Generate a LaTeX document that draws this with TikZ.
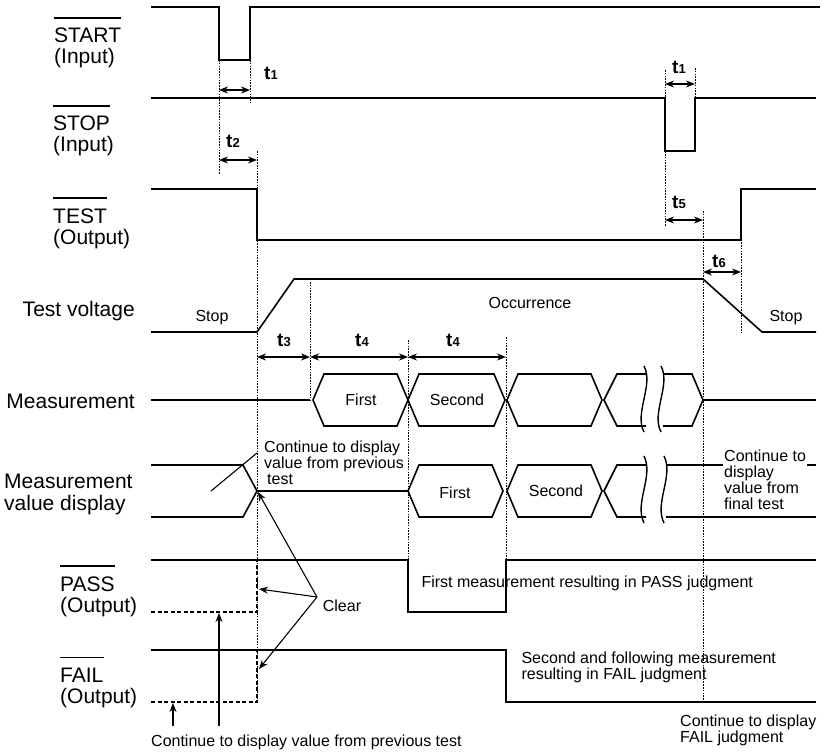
\documentclass[tikz,border=0pt]{standalone}
\usepackage{fontspec}
\setmainfont{Liberation Sans}
\usetikzlibrary{arrows.meta}
\newcommand{\tsub}[1]{\textbf{t\kern0.3pt{\fontsize{13}{13}\selectfont #1}}}

\begin{document}
\begin{tikzpicture}[x=1pt, y=-1pt, >={Stealth[length=9pt,width=7pt]},
  wave/.style={line width=1.6pt},
  thin/.style={line width=1.1pt},
  guide/.style={line width=0.9pt, dash pattern=on 1.6pt off 1.2pt},
  held/.style={line width=1.5pt, dash pattern=on 4pt off 2.5pt},
  dim/.style={line width=1.5pt, <->},
  big/.style={font=\fontsize{21}{22}\selectfont, align=left},
  small/.style={font=\fontsize{16}{16}\selectfont, align=left},
  tl/.style={font=\fontsize{19}{19}\selectfont}]
  \useasboundingbox (0,0) rectangle (823,752);

  % signal names
  \foreach \nm/\io/\x/\y/\id in {START/Input/54/43/start, STOP/Input/53/131/stop,
      TEST/Output/53/223/test, PASS/Output/60/591/pass, FAIL/Output/60/682/fail} {
    \node[big, anchor=base west, inner sep=0pt] (\id) at (\x,\y) {\nm};
    \node[big, anchor=base west, inner sep=0pt] (\id io) at (\x,\y+21) {(\io)};
    \draw[line width=1.3pt] ([yshift=10pt]\id.north west) -- ([yshift=10pt]\id.north east);
  }
  \node[big, anchor=east, inner sep=0pt] (volt) at (135,311) {Test voltage};
  \node[big, anchor=east, inner sep=0pt] (meas) at (135,401) {Measurement};
  \node[big, anchor=west, inner sep=0pt] (disp) at (4,494) {Measurement\\value display};

  % START, STOP, TEST
  \draw[wave] (151,7) -- (219,7) -- (219,60) -- (250,60) -- (250,7) -- (820,7);
  \draw[wave] (151,98) -- (665,98) -- (665,151) -- (695,151) -- (695,98) -- (816,98);
  \draw[wave] (151,189) -- (257,189) -- (257,240) -- (741,240) -- (741,189) -- (816,189);

  % test voltage
  \draw[wave] (151,332) -- (257,332) -- (294,279) -- (703,279) -- (762,332) -- (816,332);
  \node[small] (stopa) at (212,318) {Stop};
  \node[small] (occ) at (530,303) {Occurrence};
  \node[small] (stopb) at (786,318) {Stop};

  % measurement
  \draw[wave] (151,400) -- (310,400);
  \foreach \a/\b in {313/408, 408/505, 507/602}
    \draw[wave] (\a,400) -- (\a+11,374) -- (\b-11,374) -- (\b,400) -- (\b-11,426) -- (\a+11,426) -- cycle;
  \draw[wave] (646,374) -- (617,374) -- (604,400) -- (617,426) -- (646,426);
  \draw[wave] (663,374) -- (692,374) -- (703,400) -- (692,426) -- (663,426);
  \draw[wave] (703,400) -- (816,400);
  \foreach \x in {644,661}
    \draw[line width=1.4pt] (\x,366) .. controls (\x+10,385) and (\x-10,413) .. (\x,432);
  \node[small] (mfirst) at (361,400) {First};
  \node[small] (msecond) at (457,400) {Second};

  % measurement value display
  \draw[wave] (151,465) -- (243,465) -- (257,491) -- (243,517) -- (151,517);
  \draw[wave] (257,491) -- (408,491);
  \draw[thin] (211,491) -- (257,453);
  \foreach \a/\b in {408/503, 507/602}
    \draw[wave] (\a,491) -- (\a+11,465) -- (\b-11,465) -- (\b,491) -- (\b-11,517) -- (\a+11,517) -- cycle;
  \draw[wave] (646,465) -- (617,465) -- (604,491) -- (617,517) -- (646,517);
  \draw[wave] (666,465) -- (816,465);
  \draw[wave] (666,517) -- (816,517);
  \foreach \x in {644,664}
    \draw[line width=1.4pt] (\x,456) .. controls (\x+10,476) and (\x-10,503) .. (\x,523);
  \node[small] (dfirst) at (455,493) {First};
  \node[small] (dsecond) at (556,491) {Second};
  \node[small, anchor=west, inner sep=1pt] (prevnote) at (263,463) {Continue to display\\value from previous\\\hspace*{3pt}test};
  \node[small, anchor=west, fill=white, inner sep=1pt] (finalnote) at (723,480) {Continue to\\display\\value from\\final test};

  % PASS, FAIL
  \draw[wave] (151,560) -- (408,560) -- (408,612) -- (506,612) -- (506,560) -- (816,560);
  \draw[held] (151,612) -- (257,612) -- (257,560);
  \draw[wave] (151,650) -- (506,650) -- (506,702) -- (816,702);
  \draw[held] (151,702) -- (257,702) -- (257,650);
  \node[small, anchor=west] (passnote) at (418,583) {First measurement resulting in PASS judgment};
  \node[small, anchor=west] (failnote) at (518,667) {Second and following measurement\\resulting in FAIL judgment};

  % guide lines
  \foreach \x/\ya/\yb in {219/60/174, 250/60/103, 665/70/226, 695/68/98, 257/151/702,
      703/211/702, 741/189/332, 310/282/400, 408/340/560, 506/337/560}
    \draw[guide] (\x,\ya) -- (\x,\yb);

  % timings
  \draw[dim] (219,90) -- (250,90);  \node[tl] (ta) at (271,73) {\tsub{1}};
  \draw[dim] (665,84) -- (695,84);  \node[tl] (tb) at (679,67) {\tsub{1}};
  \draw[dim] (219,160) -- (257,160); \node[tl] (tc) at (233,141) {\tsub{2}};
  \draw[dim] (665,220) -- (703,220); \node[tl] (td) at (679,202) {\tsub{5}};
  \draw[dim] (703,272) -- (741,272); \node[tl] (te) at (719,261) {\tsub{6}};
  \draw[dim] (257,357) -- (310,357); \node[tl] (tf) at (284,340) {\tsub{3}};
  \draw[dim] (310,357) -- (408,357); \node[tl] (tg) at (362,340) {\tsub{4}};
  \draw[dim] (408,357) -- (506,357); \node[tl] (th) at (453,340) {\tsub{4}};

  % clear pointers
  \coordinate (clr) at (317,597);
  \node[small] (clear) at (342,606) {Clear};
  \draw[thin, ->] (clr) -- (258,492);
  \draw[thin, ->] (clr) -- (259,589);
  \draw[thin, ->] (clr) -- (259,669);

  % kept values
  \coordinate (ka) at (173,726);
  \coordinate (kb) at (219,726);
  \draw[thin, ->] (ka) -- (173,703);
  \draw[thin, ->] (kb) -- (219,613);
  \node[small, anchor=west, inner sep=0pt] (keepnote) at (151,742) {Continue to display value from previous test};
  \node[small, anchor=west, inner sep=0pt] (failkeep) at (680,730) {Continue to display\\FAIL judgment};
\end{tikzpicture}
\end{document}
